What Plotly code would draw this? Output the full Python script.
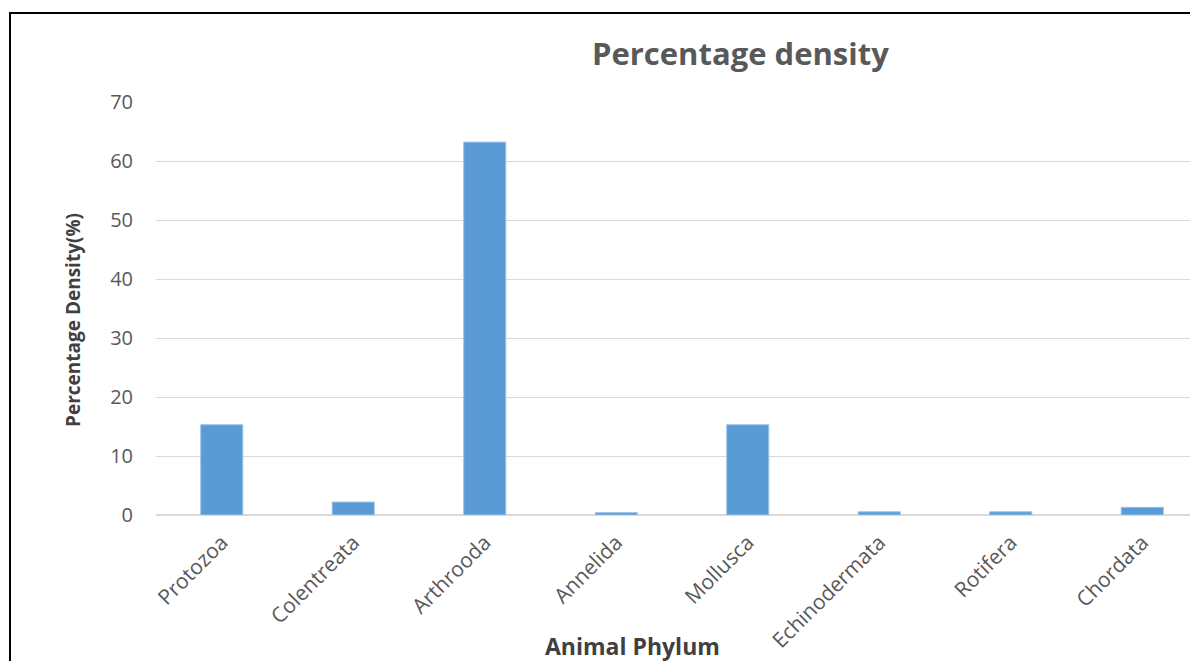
import plotly.graph_objects as go

phyla = ["Protozoa", "Colentreata", "Arthrooda", "Annelida", "Mollusca",
         "Echinodermata", "Rotifera", "Chordata"]
density = [15.3, 2.2, 63.2, 0.4, 15.3, 0.55, 0.55, 1.3]
y_ticks = [0, 10, 20, 30, 40, 50, 60, 70]

# page is offset by 8px (body margin), so work in screen coords minus 8
OFF = 8
W, H = 1198, 661
L, T = 156 - OFF, 102 - OFF
plot_right = 1198
plot_bottom = 515 - OFF
R, B = W - plot_right, H - plot_bottom
pw, ph = plot_right - L, plot_bottom - T

def px_x(x):
    return (x - OFF - L) / pw

def px_y(y):
    return (plot_bottom - (y - OFF)) / ph

grey = "#595959"
font = "Open Sans"

fig = go.Figure(go.Bar(
    x=list(range(len(phyla))), y=density,
    marker=dict(color="#5B9BD5", line=dict(color="#9DC3E6", width=1)),
    width=0.32,
))

fig.update_layout(
    width=W, height=H,
    margin=dict(l=L, r=R, t=T, b=B),
    paper_bgcolor="white", plot_bgcolor="white",
    showlegend=False,
    font=dict(family=font, color=grey),
    xaxis=dict(
        range=[-0.5, -0.5 + pw / 131.5],
        tickmode="array", tickvals=list(range(len(phyla))), ticktext=phyla,
        tickangle=-45, tickfont=dict(size=21, color=grey, family=font),
        showgrid=False, zeroline=False, showline=False, ticks="",
        ticklabelstandoff=10,
    ),
    yaxis=dict(
        range=[0, 70], tickmode="array", tickvals=y_ticks,
        tickfont=dict(size=20, color=grey, family=font),
        showgrid=True, gridcolor="#D9D9D9", gridwidth=1,
        zeroline=True, zerolinecolor="#D9D9D9", zerolinewidth=2,
        showline=False, ticks="", ticklabelstandoff=22,
    ),
    annotations=[
        dict(text="<b>Percentage density</b>", xref="paper", yref="paper",
             x=px_x(740), y=px_y(53), showarrow=False,
             font=dict(size=31, color=grey, family=font),
             xanchor="center", yanchor="middle"),
        dict(text="<b>Percentage Density(%)</b>", xref="paper", yref="paper",
             x=px_x(73), y=px_y(320), showarrow=False, textangle=-90,
             font=dict(size=19, color="#404040", family=font),
             xanchor="center", yanchor="middle"),
        dict(text="<b>Animal Phylum</b>", xref="paper", yref="paper",
             x=px_x(632), y=px_y(646), showarrow=False,
             font=dict(size=23, color="#404040", family=font),
             xanchor="center", yanchor="middle"),
    ],
    shapes=[
        dict(type="rect", xref="paper", yref="paper",
             x0=px_x(10), x1=px_x(1230), y0=px_y(700), y1=px_y(13),
             line=dict(color="black", width=2), fillcolor="rgba(0,0,0,0)",
             layer="below"),
    ],
)

fig.write_html("out.html")
